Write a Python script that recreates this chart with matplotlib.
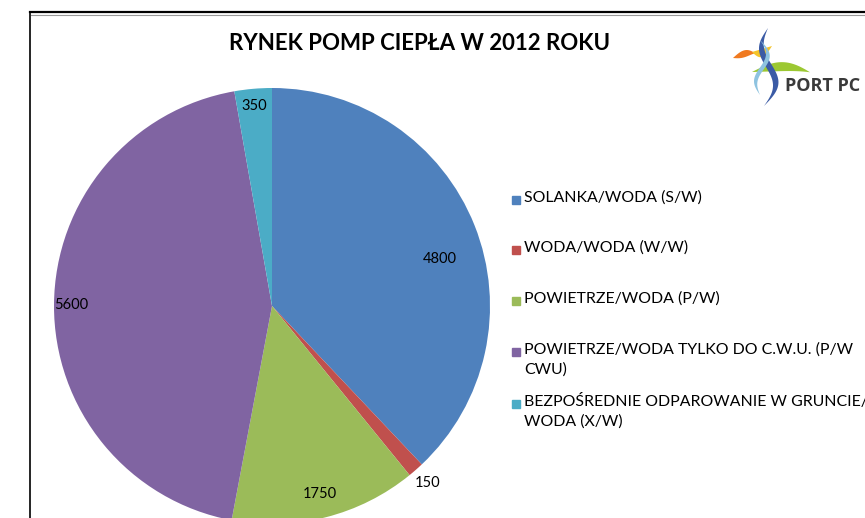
import numpy as np
import matplotlib.pyplot as plt
from matplotlib.lines import Line2D
from matplotlib.patches import Rectangle

plt.rcParams['font.family'] = ['Lato', 'DejaVu Sans']

# dane
kategorie = ["SOLANKA/WODA (S/W)",
             "WODA/WODA (W/W)",
             "POWIETRZE/WODA (P/W)",
             "POWIETRZE/WODA TYLKO DO C.W.U. (P/W\nCWU)",
             "BEZPOŚREDNIE ODPAROWANIE W GRUNCIE/\nWODA (X/W)"]
wartosci = [4800, 150, 1750, 5600, 350]
kolory = ["#4F81BD", "#C0504D", "#9BBB59", "#8064A2", "#4BACC6"]

W, H = 865, 518
fig = plt.figure(figsize=(W / 100, H / 100), dpi=100)

def fx(x):
    return x / W

def fy(y):
    return 1 - y / H

# ramka slajdu
fig.add_artist(Line2D([fx(30), 1], [fy(12), fy(12)], color="black", lw=1.6))
fig.add_artist(Line2D([fx(31), 1], [fy(15), fy(15)], color="#999999", lw=0.8))
fig.add_artist(Line2D([fx(30), fx(30)], [fy(12), 0], color="black", lw=1.2))

# wykres kolowy
cx, cy, r = 272, 306, 218
ax = fig.add_axes([fx(cx - r), fy(cy + r), 2 * r / W, 2 * r / H])
ax.pie(wartosci, colors=kolory, startangle=90, counterclock=False, radius=1,
       wedgeprops=dict(linewidth=0))
ax.set_xlim(-1, 1)
ax.set_ylim(-1, 1)
ax.set_aspect("auto")

# etykiety wartosci
odl = [0.80, 1.08, 0.89, 0.92, 0.92]
przes = [-6, 0, 0, 0, 0]
suma = sum(wartosci)
kat = 90.0
for v, d, p in zip(wartosci, odl, przes):
    sweep = v / suma * 360
    mid = np.deg2rad(kat - sweep / 2 + p)
    ax.text(d * np.cos(mid), d * np.sin(mid), str(v), ha="center", va="center",
            fontsize=10.5, color="black")
    kat -= sweep

# tytul
fig.text(fx(420), fy(43), "RYNEK POMP CIEPŁA W 2012 ROKU", ha="center", va="center",
         fontsize=16, fontweight="bold", color="black")

# legenda
leg_y = [200, 250, 301, 352, 404]
for k, c, y in zip(kategorie, kolory, leg_y):
    fig.add_artist(Rectangle((fx(512), fy(y + 4)), 8 / W, 8 / H, color=c,
                             transform=fig.transFigure))
    fig.text(fx(524), fy(y - 10), k, ha="left", va="top", fontsize=11.4,
             color="black", linespacing=1.5)

# logo PORT PC
t = np.linspace(0, 1, 40)


def wstega(xs, ys, dx, dy, kolor):
    px = np.r_[xs, (xs + dx)[::-1]]
    py = np.r_[ys, (ys + dy)[::-1]]
    fig.add_artist(plt.Polygon(np.column_stack([fx(px), fy(py)]), closed=True,
                               color=kolor, transform=fig.transFigure, lw=0))


grub = np.sin(np.pi * t)
wstega(733 + 22 * t, 58 - 8 * np.sin(np.pi * t * 0.8), 0, 7 * grub, "#F07A20")
wstega(752 + 20 * t, 52 - 6 * t, 0, 8 * grub, "#F5C42A")
wstega(752 + 58 * t, 72 - 12 * np.sin(np.pi * t * 0.9) + 4 * t, 0, 9 * grub, "#9CC832")
wstega(768 - 8 * np.sin(2 * np.pi * t) - 4 * t, 28 + 78 * t, 7 * grub, 0, "#3B5BA5")
wstega(760 + 6 * np.sin(2 * np.pi * t), 40 + 55 * t, 5 * grub, 0, "#8EC3E0")
fig.text(fx(785), fy(86), "PORT PC", ha="left", va="center", fontsize=13,
         fontweight="bold", color="#3A3A3A", family=["Open Sans", "DejaVu Sans"])

fig.savefig("out.png", dpi=100)
